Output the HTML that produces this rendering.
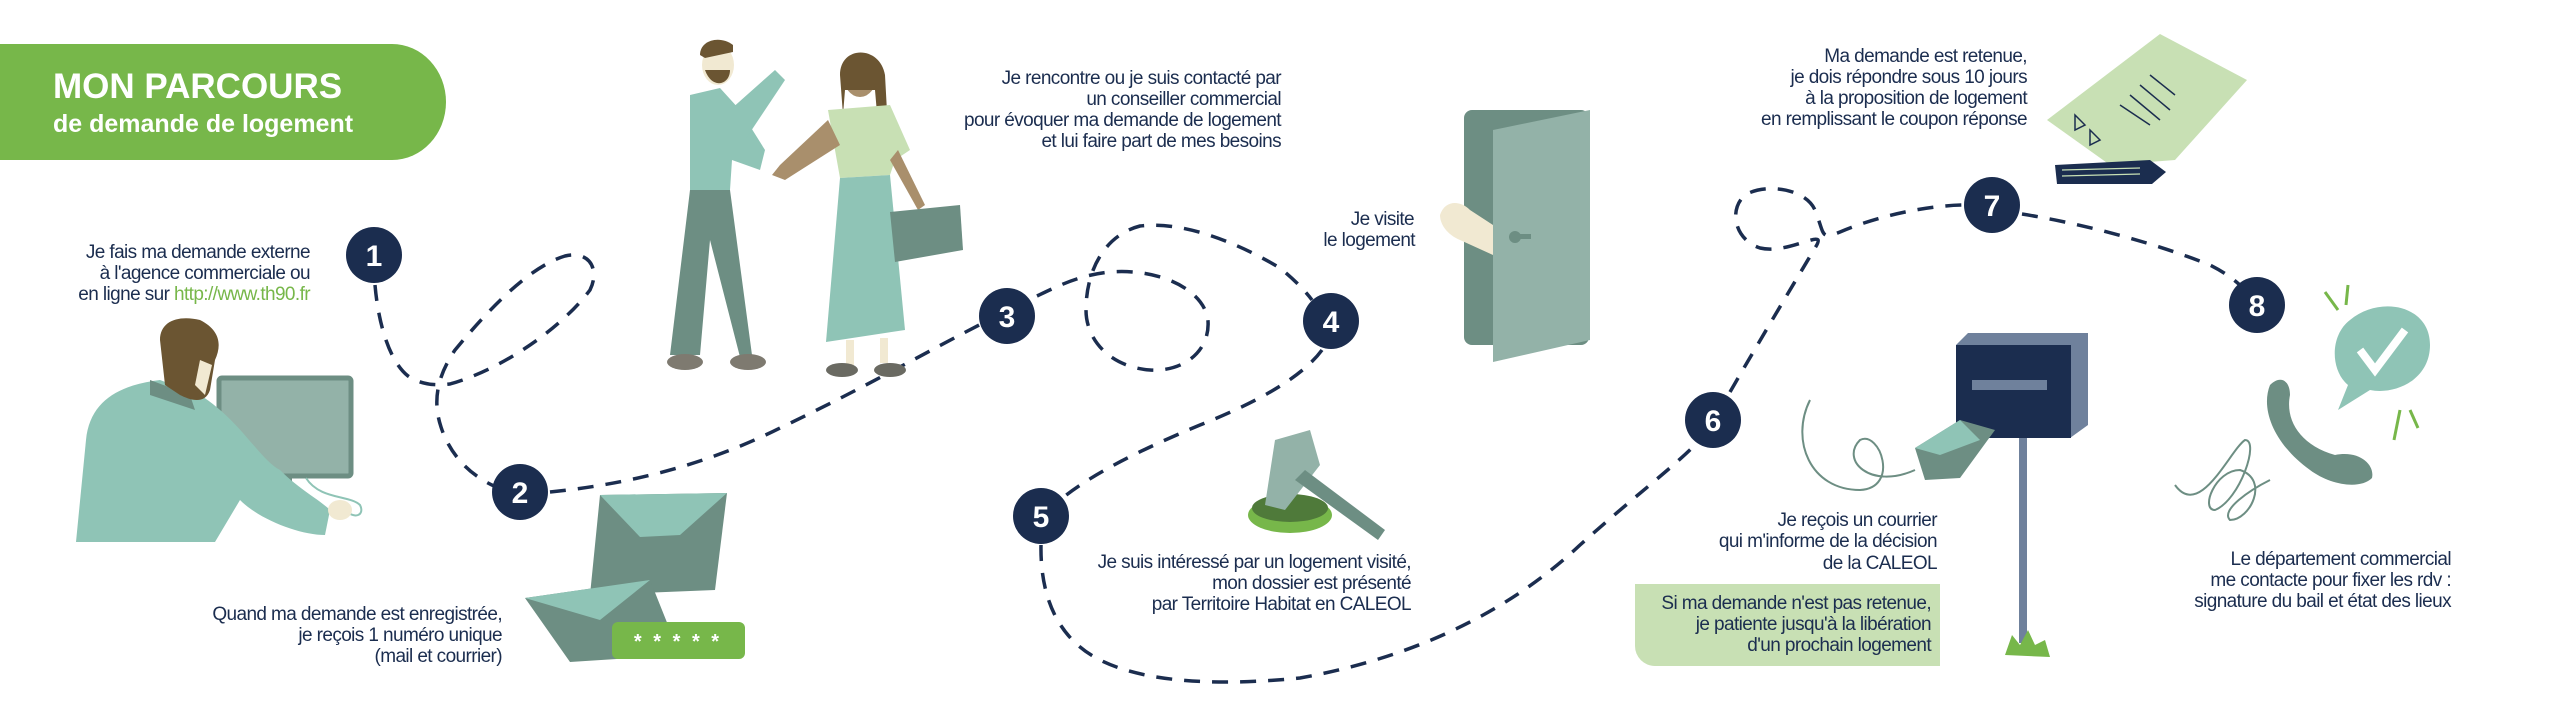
<!DOCTYPE html>
<html><head><meta charset="utf-8"><style>
html,body{margin:0;padding:0;background:#fff;}
svg{display:block;}
text{font-family:"Liberation Sans",sans-serif;}
.t{font-size:19px;fill:#1b2d4f;text-anchor:end;letter-spacing:-0.6px;}
.n{font-size:30px;font-weight:bold;fill:#fff;text-anchor:middle;}
</style></head><body>
<svg width="2560" height="720" viewBox="0 0 2560 720" xmlns="http://www.w3.org/2000/svg">
<!-- banner -->
<path d="M0 44 H392 A54 58 0 0 1 446 102 A54 58 0 0 1 392 160 H0 Z" fill="#77b74a"/>
<text x="53" y="98" style="font-size:35px;font-weight:bold;fill:#fff;">MON PARCOURS</text>
<text x="53" y="132" style="font-size:25px;font-weight:bold;fill:#fff;">de demande de logement</text>

<!-- dashed path -->
<g fill="none" stroke="#1b2d4f" stroke-width="3.5" stroke-dasharray="16 12">
<path d="M375 285 C378 320 388 360 408 376 C420 384 433 386 450 384 C500 370 560 330 590 290 C600 270 590 250 565 256 C525 268 480 320 455 350 C438 375 432 400 441 427 C450 455 470 475 494 486"/>
<path d="M550 492 C620 485 700 468 780 428 C860 390 930 350 985 322"/>
<path d="M1037 296 C1060 285 1080 275 1110 272 C1160 268 1205 290 1208 321 C1210 350 1185 372 1150 370 C1110 367 1086 340 1086 310 C1086 270 1105 235 1140 226 C1190 220 1250 250 1280 268 C1295 280 1306 292 1312 300"/>
<path d="M1322 350 C1300 380 1250 405 1200 425 C1140 450 1090 475 1060 500"/>
<path d="M1041 545 C1040 600 1060 640 1100 660 C1150 685 1230 685 1300 678 C1400 660 1500 620 1580 545 C1630 500 1670 470 1695 445"/>
<path d="M1730 392 C1760 340 1790 290 1815 248 C1830 225 1790 255 1760 248 C1735 240 1728 210 1745 195 C1765 183 1805 188 1815 210 C1825 235 1820 240 1840 232 C1880 215 1930 205 1966 205"/>
<path d="M2022 214 C2090 225 2160 245 2210 265 C2230 275 2240 285 2245 290"/>
</g>
<!-- numbered circles -->
<g fill="#1b2d4f">
<ellipse cx="374" cy="255" rx="28" ry="28"/><ellipse cx="520" cy="492" rx="28" ry="28"/>
<ellipse cx="1007" cy="316" rx="28" ry="28"/><ellipse cx="1331" cy="321" rx="28" ry="28"/>
<ellipse cx="1041" cy="516" rx="28" ry="28"/><ellipse cx="1713" cy="420" rx="28" ry="28"/>
<ellipse cx="1992" cy="205" rx="28" ry="28"/><ellipse cx="2257" cy="305" rx="28" ry="28"/>
</g>
<text class="n" x="374" y="266">1</text><text class="n" x="520" y="503">2</text>
<text class="n" x="1007" y="327">3</text><text class="n" x="1331" y="332">4</text>
<text class="n" x="1041" y="527">5</text><text class="n" x="1713" y="431">6</text>
<text class="n" x="1992" y="216">7</text><text class="n" x="2257" y="316">8</text>

<!-- man at computer -->
<rect x="219" y="378" width="132" height="98" rx="3" fill="#93b2a8" stroke="#6d8e83" stroke-width="5"/>
<rect x="268" y="476" width="24" height="18" fill="#6d8e83"/>
<path d="M306 478 C320 500 350 495 360 505 C365 515 355 520 345 510" fill="none" stroke="#8fc4b6" stroke-width="2"/>
<path d="M76 542 L86 440 C90 400 120 385 160 380 L200 395 C240 420 260 460 280 470 C300 490 320 500 330 510 L325 535 C300 535 260 520 240 500 L215 542 Z" fill="#8fc4b6"/>
<path d="M150 380 L190 395 L195 410 L150 395 Z" fill="#6d8e83"/>
<ellipse cx="340" cy="510" rx="12" ry="10" fill="#f1e9d2"/>
<path d="M160 340 C160 320 180 315 200 320 C220 330 222 345 215 360 L210 390 C205 405 190 400 180 395 L165 385 Z" fill="#6b5532"/>
<path d="M200 360 L212 365 L205 395 L195 385 Z" fill="#f1e9d2"/>

<!-- envelopes -->
<path d="M600 495 L727 493 L715 590 L590 595 Z" fill="#6d8e83"/>
<path d="M600 495 L727 493 L680 535 L640 537 Z" fill="#8fc4b6"/>
<path d="M525 598 L650 580 L680 655 L570 662 Z" fill="#6d8e83"/>
<path d="M525 598 L650 580 L600 620 Z" fill="#8fc4b6"/>
<rect x="612" y="622" width="133" height="37" rx="6" fill="#77b74a"/>
<text x="678" y="648" style="font-size:20px;fill:#fff;text-anchor:middle;font-weight:bold;letter-spacing:3px;">* * * * *</text>

<!-- man standing -->
<ellipse cx="718" cy="65" rx="16" ry="20" fill="#f1e9d2"/>
<path d="M700 55 C700 40 720 35 733 45 L733 52 L705 58 Z" fill="#6b5532"/>
<path d="M705 70 C712 90 730 85 730 70 Z" fill="#6b5532"/>
<path d="M690 95 L720 88 L740 110 L765 150 L760 170 L732 160 L730 190 L690 190 Z" fill="#8fc4b6"/>
<path d="M730 110 L775 70 L785 80 L745 140 Z" fill="#8fc4b6"/>
<path d="M690 190 L730 190 L752 355 L740 357 L710 240 L700 355 L670 355 Z" fill="#6d8e83"/>
<ellipse cx="685" cy="362" rx="18" ry="8" fill="#7e7a70"/><ellipse cx="748" cy="362" rx="18" ry="8" fill="#7e7a70"/>
<!-- woman -->
<ellipse cx="860" cy="75" rx="17" ry="22" fill="#a98f6c"/>
<path d="M840 75 C840 45 880 45 885 75 L888 130 L878 125 L875 90 L845 90 L843 115 Z" fill="#6b5532"/>
<path d="M828 110 L890 105 L910 150 L895 160 L890 175 L840 178 L835 150 Z" fill="#c8e0b4"/>
<path d="M828 120 L780 165 L772 175 L785 180 L840 145 Z" fill="#a98f6c"/>
<path d="M898 150 L925 205 L918 210 L890 160 Z" fill="#a98f6c"/>
<path d="M840 178 L890 175 L905 330 L826 342 Z" fill="#8fc4b6"/>
<path d="M890 212 L960 205 L963 250 L895 262 Z" fill="#6d8e83"/>
<rect x="846" y="340" width="8" height="25" fill="#f1e9d2"/><rect x="880" y="338" width="8" height="25" fill="#f1e9d2"/>
<ellipse cx="842" cy="370" rx="16" ry="7" fill="#6a6a62"/><ellipse cx="890" cy="370" rx="16" ry="7" fill="#6a6a62"/>

<!-- gavel -->
<ellipse cx="1290" cy="515" rx="42" ry="18" fill="#77b74a"/>
<ellipse cx="1290" cy="508" rx="38" ry="14" fill="#4f7a3a"/>
<path d="M1275 440 L1310 430 L1320 465 L1285 510 L1265 505 Z" fill="#93b2a8"/>
<path d="M1305 470 L1385 530 L1378 540 L1295 480 Z" fill="#6d8e83"/>

<!-- door -->
<rect x="1464" y="110" width="125" height="235" rx="8" fill="#6d8e83"/>
<path d="M1493 130 L1590 110 L1590 340 L1493 362 Z" fill="#93b2a8"/>
<circle cx="1515" cy="237" r="6" fill="#6d8e83"/><rect x="1515" y="234" width="16" height="5" fill="#6d8e83"/>
<path d="M1440 215 C1445 200 1460 200 1470 210 L1493 225 L1493 255 L1460 240 C1448 235 1440 225 1440 215 Z" fill="#f1e9d2"/>

<!-- paper + pencil -->
<path d="M2160 34 L2247 80 L2175 160 L2110 165 L2047 120 Z" fill="#c8e0b4"/>
<g stroke="#1b2d4f" stroke-width="1.5" fill="none">
<path d="M2150 75 L2175 95 M2140 85 L2170 110 M2130 95 L2160 120 M2120 105 L2150 125 M2075 115 L2085 125 L2075 130 Z M2090 130 L2100 140 L2090 145 Z"/>
</g>
<path d="M2055 165 L2150 160 L2166 172 L2152 184 L2057 184 Z" fill="#1b2d4f"/>
<g stroke="#c8e0b4" stroke-width="1.2"><line x1="2062" y1="170" x2="2140" y2="168"/><line x1="2062" y1="176" x2="2140" y2="174"/></g>

<!-- mailbox -->
<rect x="2019" y="438" width="8" height="205" fill="#6f819c"/>
<path d="M2005 655 L2012 635 L2020 645 L2028 630 L2035 645 L2045 640 L2050 657 Z" fill="#77b74a"/>
<path d="M1956 345 L1968 333 L2088 333 L2088 425 L2070 438 Z" fill="#6f819c"/>
<rect x="1956" y="345" width="115" height="93" fill="#1b2d4f"/>
<rect x="1972" y="380" width="75" height="10" fill="#6f819c"/>
<path d="M1915 448 L1960 420 L1995 430 L1960 478 L1925 480 Z" fill="#6d8e83"/>
<path d="M1915 448 L1960 420 L1980 440 L1940 455 Z" fill="#8fc4b6"/>
<path d="M1810 400 C1790 440 1810 490 1860 490 C1900 488 1880 430 1860 440 C1840 460 1870 490 1915 470" fill="none" stroke="#6d8e83" stroke-width="2"/>

<!-- phone + bubble -->
<path d="M2350 320 C2380 295 2430 305 2430 345 C2430 380 2395 395 2370 390 L2338 410 L2348 385 C2330 370 2330 335 2350 320 Z" fill="#8fc4b6"/>
<path d="M2360 350 L2375 370 L2405 330" fill="none" stroke="#fff" stroke-width="8"/>
<path d="M2270 385 C2280 375 2290 380 2290 395 C2285 420 2300 445 2335 455 C2360 450 2375 465 2372 478 C2360 490 2330 485 2310 470 C2275 445 2260 410 2270 385 Z" fill="#6d8e83"/>
<path d="M2175 485 C2200 520 2230 450 2245 440 C2260 440 2240 500 2215 510 C2200 510 2215 470 2240 470 C2270 480 2250 520 2230 520 C2220 510 2250 490 2270 480" fill="none" stroke="#6d8e83" stroke-width="2"/>
<g stroke="#77b74a" stroke-width="3"><line x1="2325" y1="292" x2="2338" y2="310"/><line x1="2348" y1="285" x2="2346" y2="305"/><line x1="2400" y1="410" x2="2394" y2="440"/><line x1="2410" y1="410" x2="2418" y2="428"/></g>

<!-- texts -->
<text class="t" x="310" y="258">Je fais ma demande externe</text>
<text class="t" x="310" y="279">à l'agence commerciale ou</text>
<text class="t" x="310" y="300">en ligne sur <tspan fill="#77b74a">http://www.th90.fr</tspan></text>

<text class="t" x="1281" y="84">Je rencontre ou je suis contacté par</text>
<text class="t" x="1281" y="105">un conseiller commercial</text>
<text class="t" x="1281" y="126">pour évoquer ma demande de logement</text>
<text class="t" x="1281" y="147">et lui faire part de mes besoins</text>

<text class="t" x="502" y="620">Quand ma demande est enregistrée,</text>
<text class="t" x="502" y="641">je reçois 1 numéro unique</text>
<text class="t" x="502" y="662">(mail et courrier)</text>

<text class="t" x="1414" y="225">Je visite</text>
<text class="t" x="1415" y="246">le logement</text>

<text class="t" x="1411" y="568">Je suis intéressé par un logement visité,</text>
<text class="t" x="1411" y="589">mon dossier est présenté</text>
<text class="t" x="1411" y="610">par Territoire Habitat en CALEOL</text>

<text class="t" x="2027" y="62">Ma demande est retenue,</text>
<text class="t" x="2027" y="83">je dois répondre sous 10 jours</text>
<text class="t" x="2027" y="104">à la proposition de logement</text>
<text class="t" x="2027" y="125">en remplissant le coupon réponse</text>

<text class="t" x="1937" y="526">Je reçois un courrier</text>
<text class="t" x="1937" y="547">qui m'informe de la décision</text>
<text class="t" x="1937" y="569">de la CALEOL</text>
<path d="M1635 584 H1940 V666 H1655 A20 20 0 0 1 1635 646 Z" fill="#c8e0b4"/>
<text class="t" x="1931" y="609">Si ma demande n'est pas retenue,</text>
<text class="t" x="1931" y="630">je patiente jusqu'à la libération</text>
<text class="t" x="1931" y="651">d'un prochain logement</text>

<text class="t" x="2451" y="565">Le département commercial</text>
<text class="t" x="2451" y="586">me contacte pour fixer les rdv :</text>
<text class="t" x="2451" y="607">signature du bail et état des lieux</text>
</svg>
</body></html>
